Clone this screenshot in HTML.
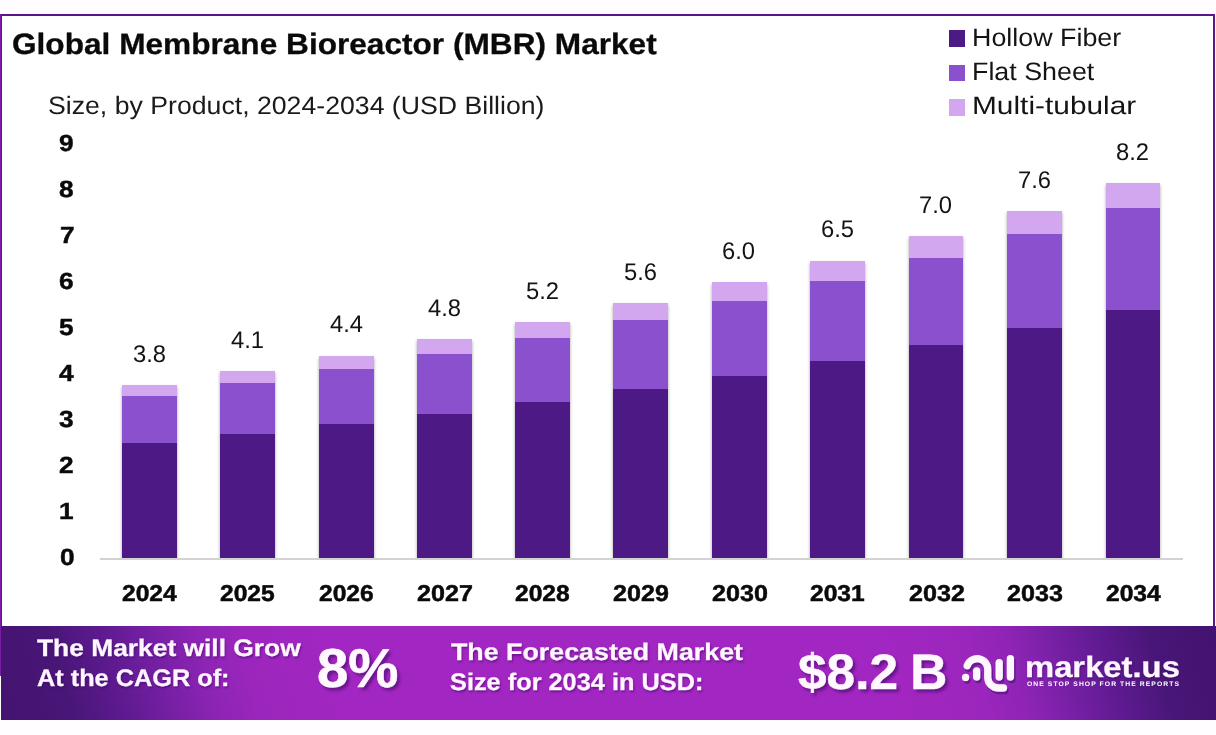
<!DOCTYPE html>
<html lang="en"><head><meta charset="utf-8"><title>Global Membrane Bioreactor (MBR) Market</title>
<style>
html,body{margin:0;padding:0;}
body{width:1216px;height:735px;position:relative;overflow:hidden;background:#fffdff;font-family:"Liberation Sans",sans-serif;}
.abs{position:absolute;}
.t{position:absolute;white-space:nowrap;line-height:1;transform-origin:0 0;text-rendering:geometricPrecision;}
.bars{position:absolute;left:0;top:120px;width:1216px;height:438px;overflow:hidden;}
.bar{position:absolute;box-shadow:0 2px 3px rgba(0,0,0,.36);}
.seg{position:absolute;left:0;width:100%;}
.c1{background:#4d1984;}
.c2{background:#8b50cd;}
.c3{background:#d2a7ef;}
</style></head><body>
<div class="abs" style="left:0;top:14px;width:1215px;height:612px;background:#fff;"></div>
<div class="abs" style="left:0;top:14px;width:1215px;height:2px;background:#5a1684;"></div>
<div class="abs" style="left:0;top:14px;width:1px;height:662px;background:#7a1da3;"></div>
<div class="abs" style="left:1px;top:15px;width:1px;height:661px;background:#5c1886;"></div>
<div class="abs" style="left:1213px;top:14px;width:2px;height:613px;background:#5c1886;"></div>
<div class="abs c1" style="left:949px;top:30px;width:16px;height:16.5px;"></div>
<div class="abs c2" style="left:949px;top:65px;width:16px;height:16px;"></div>
<div class="abs c3" style="left:949px;top:99px;width:16px;height:16.5px;"></div>
<div class="bars">
<div class="bar" style="left:122.0px;top:265.0px;width:54.8px;height:172.6px;"><div class="seg c3" style="top:0;height:10.9px;"></div><div class="seg c2" style="top:10.9px;height:47.1px;"></div><div class="seg c1" style="top:58.0px;height:114.6px;"></div></div>
<div class="bar" style="left:220.2px;top:251.3px;width:54.8px;height:186.3px;"><div class="seg c3" style="top:0;height:11.5px;"></div><div class="seg c2" style="top:11.5px;height:51.0px;"></div><div class="seg c1" style="top:62.5px;height:123.8px;"></div></div>
<div class="bar" style="left:318.8px;top:235.8px;width:54.8px;height:201.8px;"><div class="seg c3" style="top:0;height:13.2px;"></div><div class="seg c2" style="top:13.2px;height:54.9px;"></div><div class="seg c1" style="top:68.1px;height:133.7px;"></div></div>
<div class="bar" style="left:417.1px;top:219.3px;width:54.8px;height:218.3px;"><div class="seg c3" style="top:0;height:14.8px;"></div><div class="seg c2" style="top:14.8px;height:59.9px;"></div><div class="seg c1" style="top:74.7px;height:143.6px;"></div></div>
<div class="bar" style="left:514.9px;top:202.2px;width:54.8px;height:235.4px;"><div class="seg c3" style="top:0;height:15.5px;"></div><div class="seg c2" style="top:15.5px;height:64.1px;"></div><div class="seg c1" style="top:79.6px;height:155.8px;"></div></div>
<div class="bar" style="left:613.4px;top:183.2px;width:54.8px;height:254.4px;"><div class="seg c3" style="top:0;height:16.7px;"></div><div class="seg c2" style="top:16.7px;height:69.1px;"></div><div class="seg c1" style="top:85.8px;height:168.6px;"></div></div>
<div class="bar" style="left:711.8px;top:162.1px;width:54.8px;height:275.5px;"><div class="seg c3" style="top:0;height:18.8px;"></div><div class="seg c2" style="top:18.8px;height:75.0px;"></div><div class="seg c1" style="top:93.8px;height:181.7px;"></div></div>
<div class="bar" style="left:810.2px;top:140.6px;width:54.8px;height:297.0px;"><div class="seg c3" style="top:0;height:20.7px;"></div><div class="seg c2" style="top:20.7px;height:79.6px;"></div><div class="seg c1" style="top:100.3px;height:196.7px;"></div></div>
<div class="bar" style="left:908.6px;top:116.3px;width:54.8px;height:321.3px;"><div class="seg c3" style="top:0;height:22.0px;"></div><div class="seg c2" style="top:22.0px;height:86.8px;"></div><div class="seg c1" style="top:108.8px;height:212.5px;"></div></div>
<div class="bar" style="left:1007.0px;top:91.3px;width:54.8px;height:346.3px;"><div class="seg c3" style="top:0;height:23.0px;"></div><div class="seg c2" style="top:23.0px;height:93.7px;"></div><div class="seg c1" style="top:116.7px;height:229.6px;"></div></div>
<div class="bar" style="left:1105.6px;top:63.3px;width:54.8px;height:374.3px;"><div class="seg c3" style="top:0;height:25.0px;"></div><div class="seg c2" style="top:25.0px;height:101.6px;"></div><div class="seg c1" style="top:126.6px;height:247.7px;"></div></div>
</div>
<div class="abs" style="left:100px;top:558px;width:1082.5px;height:1.5px;background:#d2d2d2;"></div>
<div class="abs" style="left:1px;top:626px;width:1215px;height:93.6px;background:linear-gradient(73.8deg,#441470 0%,#481677 5.8%,#5d1a8f 10%,#7720a5 14.2%,#8e24b5 17.8%,#9c26bd 21.3%,#a226c1 27.5%,#a226c1 73%,#9c26bd 79.3%,#8e24b5 83%,#7720a5 86.5%,#5d1a8f 90.7%,#481677 94.6%,#431370 100%);"></div>
<svg class="abs" style="left:955px;top:645px;" width="70" height="55" viewBox="955 645 70 55">
<g fill="none" stroke-linecap="round" stroke-linejoin="round" stroke-width="7.4">
<g stroke="rgba(70,15,110,.55)" transform="translate(1.5,2.5)">
<path d="M967.2 665.8 A10.6 10.6 0 0 1 987.8 669.4 L987.8 677.4 A10.6 10.6 0 0 0 998.4 688 L1003.5 688"/>
<path d="M976.7 671 L976.7 677"/><path d="M999.2 662.8 L999.2 677"/><path d="M1010.4 658.8 L1010.4 677"/>
<path d="M965.6 677.5 L965.61 677.5"/></g>
<g stroke="#fdf6ff">
<path d="M967.2 665.8 A10.6 10.6 0 0 1 987.8 669.4 L987.8 677.4 A10.6 10.6 0 0 0 998.4 688 L1003.5 688"/>
<path d="M976.7 671 L976.7 677"/><path d="M999.2 662.8 L999.2 677"/><path d="M1010.4 658.8 L1010.4 677"/>
<path d="M965.6 677.5 L965.61 677.5"/></g>
</g></svg>
<div class="t" id="title" style="left:12.02px;top:29.96px;font-size:29.35px;font-weight:700;color:#0a0a0a;transform:scaleX(1.0774);-webkit-text-stroke:0.3px currentColor;">Global Membrane Bioreactor (MBR) Market</div>
<div class="t" id="sub" style="left:48.24px;top:93.89px;font-size:25.17px;font-weight:400;color:#1a1a1a;transform:scaleX(1.0599);">Size, by Product, 2024-2034 (USD Billion)</div>
<div class="t" id="lg1" style="left:972.37px;top:25.79px;font-size:25.17px;font-weight:400;color:#141414;transform:scaleX(1.0674);">Hollow Fiber</div>
<div class="t" id="lg2" style="left:972.37px;top:59.69px;font-size:25.17px;font-weight:400;color:#141414;transform:scaleX(1.0664);">Flat Sheet</div>
<div class="t" id="lg3" style="left:972.13px;top:93.79px;font-size:25.17px;font-weight:400;color:#141414;transform:scaleX(1.1868);">Multi-tubular</div>
<div class="t" id="y0" style="left:60.16px;top:545.75px;font-size:23.45px;font-weight:700;color:#0a0a0a;transform:scaleX(1.1200);-webkit-text-stroke:0.45px currentColor;">0</div>
<div class="t" id="y1" style="left:59.04px;top:499.83px;font-size:23.45px;font-weight:700;color:#0a0a0a;transform:scaleX(1.1200);-webkit-text-stroke:0.45px currentColor;">1</div>
<div class="t" id="y2" style="left:59.04px;top:453.91px;font-size:23.45px;font-weight:700;color:#0a0a0a;transform:scaleX(1.1200);-webkit-text-stroke:0.45px currentColor;">2</div>
<div class="t" id="y3" style="left:59.04px;top:407.98px;font-size:23.45px;font-weight:700;color:#0a0a0a;transform:scaleX(1.1200);-webkit-text-stroke:0.45px currentColor;">3</div>
<div class="t" id="y4" style="left:59.04px;top:362.06px;font-size:23.45px;font-weight:700;color:#0a0a0a;transform:scaleX(1.1200);-webkit-text-stroke:0.45px currentColor;">4</div>
<div class="t" id="y5" style="left:59.04px;top:316.14px;font-size:23.45px;font-weight:700;color:#0a0a0a;transform:scaleX(1.1200);-webkit-text-stroke:0.45px currentColor;">5</div>
<div class="t" id="y6" style="left:59.04px;top:270.22px;font-size:23.45px;font-weight:700;color:#0a0a0a;transform:scaleX(1.1200);-webkit-text-stroke:0.45px currentColor;">6</div>
<div class="t" id="y7" style="left:60.16px;top:224.30px;font-size:23.45px;font-weight:700;color:#0a0a0a;transform:scaleX(1.1200);-webkit-text-stroke:0.45px currentColor;">7</div>
<div class="t" id="y8" style="left:59.04px;top:178.37px;font-size:23.45px;font-weight:700;color:#0a0a0a;transform:scaleX(1.1200);-webkit-text-stroke:0.45px currentColor;">8</div>
<div class="t" id="y9" style="left:59.04px;top:132.45px;font-size:23.45px;font-weight:700;color:#0a0a0a;transform:scaleX(1.1200);-webkit-text-stroke:0.45px currentColor;">9</div>
<div class="t" id="x2024" style="left:122.00px;top:581.84px;font-size:22.87px;font-weight:700;color:#0a0a0a;transform:scaleX(1.0765);-webkit-text-stroke:0.5px currentColor;">2024</div>
<div class="t" id="v2024" style="left:132.67px;top:342.64px;font-size:24.17px;font-weight:400;color:#141414;transform:scaleX(0.9844);">3.8</div>
<div class="t" id="x2025" style="left:220.20px;top:581.84px;font-size:22.87px;font-weight:700;color:#0a0a0a;transform:scaleX(1.0765);-webkit-text-stroke:0.5px currentColor;">2025</div>
<div class="t" id="v2025" style="left:231.36px;top:328.94px;font-size:24.17px;font-weight:400;color:#141414;transform:scaleX(0.9844);">4.1</div>
<div class="t" id="x2026" style="left:318.80px;top:581.84px;font-size:22.87px;font-weight:700;color:#0a0a0a;transform:scaleX(1.0765);-webkit-text-stroke:0.5px currentColor;">2026</div>
<div class="t" id="v2026" style="left:329.96px;top:313.44px;font-size:24.17px;font-weight:400;color:#141414;transform:scaleX(0.9844);">4.4</div>
<div class="t" id="x2027" style="left:417.10px;top:581.84px;font-size:22.87px;font-weight:700;color:#0a0a0a;transform:scaleX(1.0980);-webkit-text-stroke:0.5px currentColor;">2027</div>
<div class="t" id="v2027" style="left:428.26px;top:296.94px;font-size:24.17px;font-weight:400;color:#141414;transform:scaleX(0.9844);">4.8</div>
<div class="t" id="x2028" style="left:514.90px;top:581.84px;font-size:22.87px;font-weight:700;color:#0a0a0a;transform:scaleX(1.0765);-webkit-text-stroke:0.5px currentColor;">2028</div>
<div class="t" id="v2028" style="left:525.57px;top:279.84px;font-size:24.17px;font-weight:400;color:#141414;transform:scaleX(0.9844);">5.2</div>
<div class="t" id="x2029" style="left:613.40px;top:581.84px;font-size:22.87px;font-weight:700;color:#0a0a0a;transform:scaleX(1.0980);-webkit-text-stroke:0.5px currentColor;">2029</div>
<div class="t" id="v2029" style="left:624.07px;top:260.84px;font-size:24.17px;font-weight:400;color:#141414;transform:scaleX(0.9844);">5.6</div>
<div class="t" id="x2030" style="left:711.80px;top:581.84px;font-size:22.87px;font-weight:700;color:#0a0a0a;transform:scaleX(1.0980);-webkit-text-stroke:0.5px currentColor;">2030</div>
<div class="t" id="v2030" style="left:722.47px;top:239.74px;font-size:24.17px;font-weight:400;color:#141414;transform:scaleX(0.9844);">6.0</div>
<div class="t" id="x2031" style="left:810.20px;top:581.84px;font-size:22.87px;font-weight:700;color:#0a0a0a;transform:scaleX(1.0765);-webkit-text-stroke:0.5px currentColor;">2031</div>
<div class="t" id="v2031" style="left:820.87px;top:218.24px;font-size:24.17px;font-weight:400;color:#141414;transform:scaleX(0.9844);">6.5</div>
<div class="t" id="x2032" style="left:908.60px;top:581.84px;font-size:22.87px;font-weight:700;color:#0a0a0a;transform:scaleX(1.0980);-webkit-text-stroke:0.5px currentColor;">2032</div>
<div class="t" id="v2032" style="left:919.27px;top:193.94px;font-size:24.17px;font-weight:400;color:#141414;transform:scaleX(0.9844);">7.0</div>
<div class="t" id="x2033" style="left:1007.00px;top:581.84px;font-size:22.87px;font-weight:700;color:#0a0a0a;transform:scaleX(1.0980);-webkit-text-stroke:0.5px currentColor;">2033</div>
<div class="t" id="v2033" style="left:1017.67px;top:168.94px;font-size:24.17px;font-weight:400;color:#141414;transform:scaleX(0.9844);">7.6</div>
<div class="t" id="x2034" style="left:1105.60px;top:581.84px;font-size:22.87px;font-weight:700;color:#0a0a0a;transform:scaleX(1.0765);-webkit-text-stroke:0.5px currentColor;">2034</div>
<div class="t" id="v2034" style="left:1116.27px;top:140.94px;font-size:24.17px;font-weight:400;color:#141414;transform:scaleX(0.9844);">8.2</div>
<div class="t" id="b1" style="left:36.90px;top:637.39px;font-size:23.88px;font-weight:700;color:#fff6ff;transform:scaleX(1.1042);-webkit-text-stroke:0.3px currentColor;text-shadow:1px 2px 2px rgba(60,10,100,.55);">The Market will Grow</div>
<div class="t" id="b2" style="left:36.90px;top:667.49px;font-size:23.88px;font-weight:700;color:#fff6ff;transform:scaleX(1.0594);-webkit-text-stroke:0.3px currentColor;text-shadow:1px 2px 2px rgba(60,10,100,.55);">At the CAGR of:</div>
<div class="t" id="b3" style="left:316.77px;top:642.33px;font-size:54.66px;font-weight:700;color:#fff8ff;transform:scaleX(1.0312);-webkit-text-stroke:0.6px currentColor;text-shadow:2.5px 3px 3px rgba(60,10,100,.6);">8%</div>
<div class="t" id="b4" style="left:451.10px;top:641.49px;font-size:23.88px;font-weight:700;color:#fff6ff;transform:scaleX(1.1227);-webkit-text-stroke:0.3px currentColor;text-shadow:1px 2px 2px rgba(60,10,100,.55);">The Forecasted Market</div>
<div class="t" id="b5" style="left:450.04px;top:671.19px;font-size:23.88px;font-weight:700;color:#fff6ff;transform:scaleX(1.0610);-webkit-text-stroke:0.3px currentColor;text-shadow:1px 2px 2px rgba(60,10,100,.55);">Size for 2034 in USD:</div>
<div class="t" id="b6" style="left:797.90px;top:647.67px;font-size:49.77px;font-weight:700;color:#fff8ff;transform:scaleX(1.0336);word-spacing:-0.04em;-webkit-text-stroke:0.5px currentColor;text-shadow:2.5px 3px 3px rgba(60,10,100,.6);">$8.2 B</div>
<div class="t" id="b7" style="left:1024.98px;top:652.54px;font-size:29.49px;font-weight:700;color:#fff6ff;transform:scaleX(1.1117);-webkit-text-stroke:0.3px currentColor;text-shadow:1px 2px 2px rgba(60,10,100,.55);">market.us</div>
<div class="t" id="b8" style="left:1027.20px;top:681.90px;font-size:6.62px;font-weight:700;color:#fff;transform:scaleX(1.0243);letter-spacing:1.05px;">ONE STOP SHOP FOR THE REPORTS</div>
</body></html>
